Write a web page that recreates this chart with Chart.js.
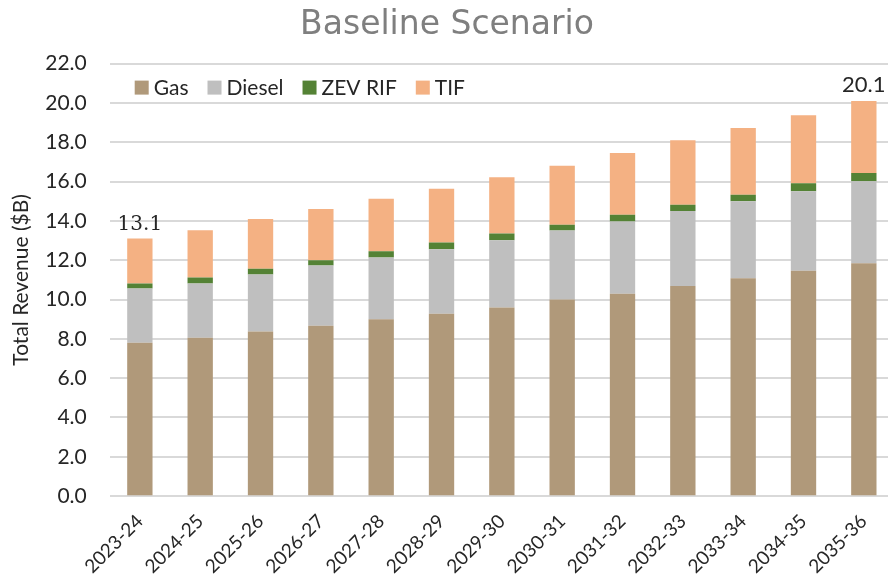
<!DOCTYPE html>
<html>
<head>
<meta charset="utf-8">
<title>Baseline Scenario</title>
<script src="https://cdn.jsdelivr.net/npm/chart.js@4.4.0/dist/chart.umd.min.js"></script>
<style>
  html, body { margin: 0; padding: 0; background: #ffffff; overflow: hidden; }
  #wrap { width: 888px; height: 586px; overflow: hidden; }
</style>
</head>
<body>
<div id="wrap"><canvas id="revenueChart" width="894" height="586"></canvas></div>
<script>
// Fiscal years on the x axis
const years = [
    "2023-24", "2024-25", "2025-26", "2026-27", "2027-28", "2028-29", "2029-30",
    "2030-31", "2031-32", "2032-33", "2033-34", "2034-35", "2035-36"
];

// Revenue by source, $B
const gas = [7.80, 8.05, 8.38, 8.67, 9.00, 9.28, 9.60, 10.00, 10.30, 10.69, 11.08, 11.47, 11.85];
const diesel = [2.76, 2.76, 2.89, 3.06, 3.14, 3.28, 3.42, 3.51, 3.67, 3.81, 3.92, 4.04, 4.17];
const zevRif = [0.25, 0.31, 0.29, 0.27, 0.32, 0.34, 0.34, 0.29, 0.34, 0.32, 0.33, 0.41, 0.41];
const tif = [2.29, 2.41, 2.54, 2.61, 2.66, 2.73, 2.86, 3.00, 3.14, 3.28, 3.39, 3.45, 3.67];

// Y axis range
const yMin = 0;
const yMax = 22;
const yStep = 2;

// Bars that get a total printed above them
const labelledBars = [0, years.length - 1];

const TEXT = "#262626";

// Prints the stack total above selected bars
const totalsPlugin = {
    id: "stackTotals",
    afterDatasetsDraw(chart) {
        const ctx = chart.ctx;
        const yScale = chart.scales.y;
        const xScale = chart.scales.x;
        labelledBars.forEach((i, n) => {
            let total = 0;
            chart.data.datasets.forEach(ds => { total += ds.data[i]; });
            const x = xScale.getPixelForValue(i);
            const y = yScale.getPixelForValue(total);
            ctx.save();
            ctx.fillStyle = TEXT;
            ctx.textAlign = "center";
            ctx.textBaseline = "alphabetic";
            ctx.font = n === 0 ? "20px 'DejaVu Serif'" : "22px Lato";
            ctx.fillText(total.toFixed(1), x, y - 9);
            ctx.restore();
        });
    }
};

// Single-row legend sitting inside the top-left of the plot
const insideLegend = {
    id: "insideLegend",
    afterDraw(chart) {
        const ctx = chart.ctx;
        const area = chart.chartArea;
        const box = 14;
        let x = area.left + 25;
        const y = area.top + 24;
        ctx.save();
        ctx.font = "21px Lato";
        ctx.textBaseline = "middle";
        ctx.textAlign = "left";
        chart.data.datasets.forEach(ds => {
            ctx.fillStyle = ds.backgroundColor;
            ctx.fillRect(x, y - box / 2, box, box);
            x += box + 5;
            ctx.fillStyle = TEXT;
            ctx.fillText(ds.label, x, y + 1);
            x += ctx.measureText(ds.label).width + 19;
        });
        ctx.restore();
    }
};

const barOpts = {
    stack: "rev",
    categoryPercentage: 1.0,
    barPercentage: 0.42,
    borderWidth: 0,
};

new Chart(document.getElementById("revenueChart"), {
    type: "bar",
    data: {
        labels: years,
        datasets: [
            { label: "Gas", data: gas, backgroundColor: "#b0997a", ...barOpts },
            { label: "Diesel", data: diesel, backgroundColor: "#bfbfbf", ...barOpts },
            { label: "ZEV RIF", data: zevRif, backgroundColor: "#548235", ...barOpts },
            { label: "TIF", data: tif, backgroundColor: "#f4b183", ...barOpts },
        ],
    },
    options: {
        responsive: false,
        animation: false,
        layout: { padding: { left: 0, right: 0, top: 0, bottom: 2 } },
        plugins: {
            title: {
                display: true,
                text: "Baseline Scenario",
                color: "#7f7f7f",
                font: { family: "'DejaVu Sans'", size: 33, weight: "normal" },
                padding: { top: 6, bottom: 18 },
            },
            legend: { display: false },
            tooltip: { enabled: false },
        },
        scales: {
            x: {
                stacked: true,
                grid: { display: false },
                border: { display: false },
                ticks: {
                    color: TEXT,
                    font: { family: "Lato", size: 19 },
                    maxRotation: 45,
                    minRotation: 45,
                    autoSkip: false,
                    padding: 6,
                },
            },
            y: {
                stacked: true,
                min: yMin,
                max: yMax,
                border: { display: false },
                grid: { color: "#d9d9d9", lineWidth: 2, drawTicks: false },
                title: {
                    display: true,
                    text: "Total Revenue ($B)",
                    color: TEXT,
                    font: { family: "Lato", size: 21 },
                    padding: { top: 9, bottom: -12 },
                },
                ticks: {
                    stepSize: yStep,
                    color: TEXT,
                    padding: 23,
                    font: { family: "Lato", size: 21 },
                    callback: function (value) {
                        return value.toFixed(1);
                    },
                },
            },
        },
    },
    plugins: [totalsPlugin, insideLegend],
});
</script>
</body>
</html>
